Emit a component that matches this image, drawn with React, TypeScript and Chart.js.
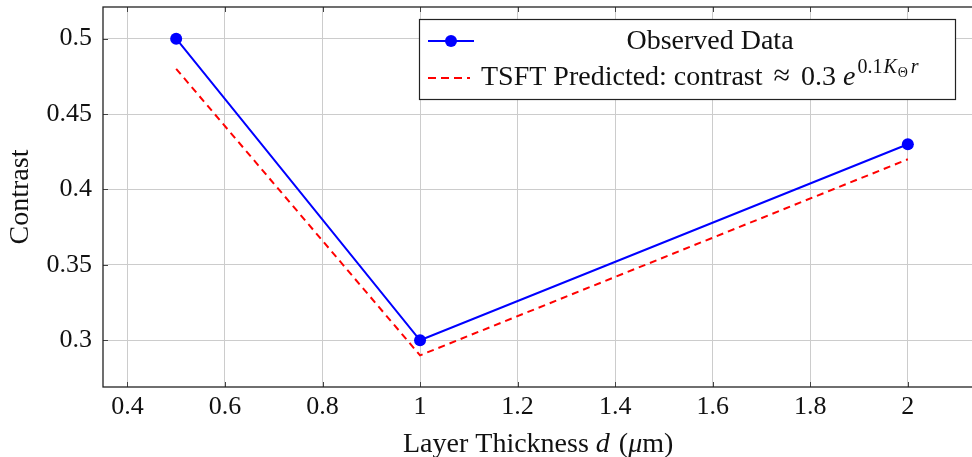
import React, { useEffect, useRef } from "react";
import { Chart, registerables } from "chart.js";

Chart.register(...registerables);

const thickness = [0.5, 1, 2];
const observed = [0.5, 0.3, 0.43];
const predicted = [0.48, 0.29, 0.42];
const xTicks = [0.4, 0.6, 0.8, 1, 1.2, 1.4, 1.6, 1.8, 2];
const xTickLabels = ["0.4", "0.6", "0.8", "1", "1.2", "1.4", "1.6", "1.8", "2"];
const yTicks = [0.3, 0.35, 0.4, 0.45, 0.5];
const yTickLabels = ["0.3", "0.35", "0.4", "0.45", "0.5"];
const xTitle = ["Layer Thickness ", "d", " (", "μ", "m)"];
const yTitle = "Contrast";
const legendObserved = "Observed Data";
const legendPredicted = "TSFT Predicted: contrast";

const X_MIN = 0.35;
const X_MAX = 2.15;
const Y_MIN = 0.269;
const Y_MAX = 0.521;

const FONT = "'Liberation Serif', 'Times New Roman', serif";
const W = 1000;
const H = 457;

const decorPlugin = {
  id: "decor",
  afterDraw(chart: any) {
    const { ctx, chartArea } = chart;
    const { left, right, top, bottom } = chartArea;
    const xs = chart.scales.x;
    const ys = chart.scales.y;
    ctx.save();
    // inner tick marks
    ctx.strokeStyle = "#444";
    ctx.lineWidth = 1;
    ctx.beginPath();
    xTicks.forEach((v) => {
      const px = Math.round(xs.getPixelForValue(v)) + 0.5;
      ctx.moveTo(px, bottom);
      ctx.lineTo(px, bottom - 5);
      ctx.moveTo(px, top);
      ctx.lineTo(px, top + 5);
    });
    yTicks.forEach((v) => {
      const py = Math.round(ys.getPixelForValue(v)) + 0.5;
      ctx.moveTo(left, py);
      ctx.lineTo(left + 5, py);
      ctx.moveTo(right, py);
      ctx.lineTo(right - 5, py);
    });
    ctx.stroke();
    // box
    ctx.strokeStyle = "#222";
    ctx.lineWidth = 1.3;
    ctx.strokeRect(left, top, right - left, bottom - top);

    const upright = `28px ${FONT}`;
    const italic = `italic 28px ${FONT}`;

    // x title
    ctx.fillStyle = "#111";
    ctx.textBaseline = "alphabetic";
    ctx.textAlign = "left";
    const parts = xTitle.map((t, i) => ({ t, f: i === 1 || i === 3 ? italic : upright }));
    let cx = 403;
    parts.forEach((p) => {
      ctx.font = p.f;
      ctx.fillText(p.t, cx, 452);
      cx += ctx.measureText(p.t).width + (p.t === "d" ? 2 : 0);
    });

    // y title
    ctx.save();
    ctx.translate(28, (top + bottom) / 2);
    ctx.rotate(-Math.PI / 2);
    ctx.font = upright;
    ctx.textAlign = "center";
    ctx.textBaseline = "alphabetic";
    ctx.fillText(yTitle, 0, 0);
    ctx.restore();

    // legend
    const bx = 419, by = 19, bw = 536, bh = 80;
    ctx.fillStyle = "#fff";
    ctx.fillRect(bx, by, bw, bh);
    ctx.strokeStyle = "#222";
    ctx.lineWidth = 1.2;
    ctx.strokeRect(bx + 0.5, by + 0.5, bw, bh);

    const r1 = 41, r2 = 78;
    // observed sample
    ctx.strokeStyle = "#0000ff";
    ctx.lineWidth = 2;
    ctx.beginPath();
    ctx.moveTo(428, r1);
    ctx.lineTo(474, r1);
    ctx.stroke();
    ctx.fillStyle = "#0000ff";
    ctx.beginPath();
    ctx.arc(451, r1, 6, 0, Math.PI * 2);
    ctx.fill();
    // predicted sample
    ctx.strokeStyle = "#ff0000";
    ctx.setLineDash([8, 5]);
    ctx.beginPath();
    ctx.moveTo(428, r2);
    ctx.lineTo(470, r2);
    ctx.stroke();
    ctx.setLineDash([]);

    ctx.fillStyle = "#111";
    ctx.font = upright;
    ctx.textAlign = "center";
    ctx.textBaseline = "alphabetic";
    ctx.fillText(legendObserved, 710, 49);

    const base2 = 85;
    const sup = `20px ${FONT}`;
    const supIt = `italic 20px ${FONT}`;
    const sub = `14px ${FONT}`;
    const segs = [
      { t: legendPredicted, f: upright, dy: 0, gap: 0 },
      { t: "≈", f: `30px ${FONT}`, dy: 0, gap: 11 },
      { t: "0.3", f: upright, dy: 0, gap: 11 },
      { t: "e", f: italic, dy: 0, gap: 7 },
      { t: "0.1", f: sup, dy: -12, gap: 2 },
      { t: "K", f: supIt, dy: -12, gap: 1 },
      { t: "Θ", f: sub, dy: -8, gap: 1 },
      { t: "r", f: supIt, dy: -12, gap: 3 },
    ];
    let sx = 481;
    ctx.textAlign = "left";
    segs.forEach((s) => {
      ctx.font = s.f;
      sx += s.gap;
      ctx.fillText(s.t, sx, base2 + s.dy);
      sx += ctx.measureText(s.t).width;
    });
    ctx.restore();
  },
};

export default function App() {
  const ref = useRef<HTMLCanvasElement | null>(null);
  useEffect(() => {
    if (!ref.current) return;
    const chart = new Chart(ref.current, {
      type: "line",
      data: {
        datasets: [
          {
            label: legendObserved,
            data: thickness.map((x, i) => ({ x, y: observed[i] })),
            borderColor: "#0000ff",
            backgroundColor: "#0000ff",
            borderWidth: 2,
            pointRadius: 6,
            pointBackgroundColor: "#0000ff",
            pointBorderWidth: 0,
            tension: 0,
          },
          {
            label: "TSFT Predicted",
            data: thickness.map((x, i) => ({ x, y: predicted[i] })),
            borderColor: "#ff0000",
            backgroundColor: "#ff0000",
            borderWidth: 2,
            borderDash: [7, 5],
            pointRadius: 0,
            tension: 0,
          },
        ],
      },
      options: {
        animation: false,
        responsive: false,
        maintainAspectRatio: false,
        devicePixelRatio: 1,
        layout: { padding: { top: 7, right: W - 981, left: 0, bottom: 0 } },
        plugins: { legend: { display: false }, tooltip: { enabled: false } },
        scales: {
          x: {
            type: "linear",
            min: X_MIN,
            max: X_MAX,
            afterBuildTicks: (s: any) => {
              s.ticks = xTicks.map((v) => ({ value: v }));
            },
            afterFit: (s: any) => {
              s.height = H - 387;
              s.paddingLeft = 0;
              s.paddingRight = 0;
            },
            grid: { color: "#cccccc", lineWidth: 1, drawTicks: false },
            border: { display: false },
            ticks: {
              padding: 5,
              color: "#111",
              font: { family: FONT, size: 26 },
              maxRotation: 0,
              autoSkip: false,
              callback: (v: any) => {
                const i = xTicks.findIndex((t) => Math.abs(t - v) < 1e-9);
                return i >= 0 ? xTickLabels[i] : "";
              },
            },
          },
          y: {
            type: "linear",
            min: Y_MIN,
            max: Y_MAX,
            afterBuildTicks: (s: any) => {
              s.ticks = yTicks.map((v) => ({ value: v }));
            },
            afterFit: (s: any) => {
              s.width = 103;
              s.paddingTop = 0;
              s.paddingBottom = 0;
            },
            grid: { color: "#cccccc", lineWidth: 1, drawTicks: false },
            border: { display: false },
            ticks: {
              padding: 11,
              color: "#111",
              font: { family: FONT, size: 26 },
              autoSkip: false,
              callback: (v: any) => {
                const i = yTicks.findIndex((t) => Math.abs(t - v) < 1e-9);
                return i >= 0 ? yTickLabels[i] : "";
              },
            },
          },
        },
      },
      plugins: [decorPlugin],
    });
    return () => chart.destroy();
  }, []);
  return (
    <div
      style={{
        position: "fixed",
        left: 0,
        top: 0,
        width: 972,
        height: 457,
        overflow: "hidden",
        background: "#fff",
      }}
    >
      <canvas ref={ref} width={W} height={H} style={{ width: W, height: H, display: "block" }} />
    </div>
  );
}
